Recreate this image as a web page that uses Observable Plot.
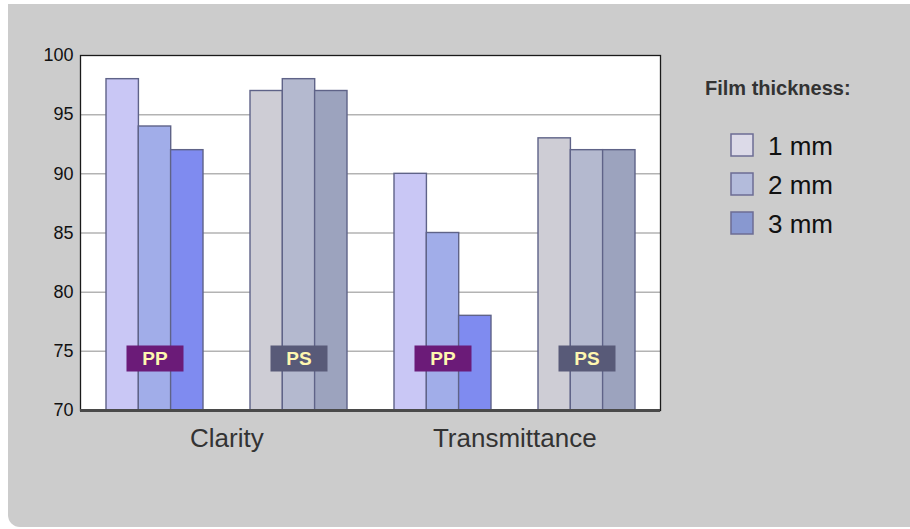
<!DOCTYPE html>
<html>
<head>
<meta charset="utf-8">
<script src="https://cdn.jsdelivr.net/npm/d3@7"></script>
<script src="https://cdn.jsdelivr.net/npm/@observablehq/plot@0.6"></script>
<style>
  html, body { margin: 0; padding: 0; background: #ffffff; }
  body { width: 910px; height: 529px; position: relative; overflow: hidden;
         font-family: "Liberation Sans", Arial, sans-serif; }
  #panel { position: absolute; left: 8px; top: 4px; width: 902px; height: 523px;
           background: #cccccc; border-radius: 0 0 0 12px; overflow: hidden; }
  #panel svg { position: absolute; left: 0; top: 0; }
</style>
</head>
<body>
<div id="panel"></div>
<script>
// ---- data ----
const categories = ["Clarity", "Transmittance"];
const materials = ["PP", "PS"];
const thicknesses = ["1 mm", "2 mm", "3 mm"];
const clarityPP = [98, 94, 92];
const clarityPS = [97, 98, 97];
const transmittancePP = [90, 85, 78];
const transmittancePS = [93, 92, 92];
const yTicks = [70, 75, 80, 85, 90, 95, 100];
const legendTitle = "Film thickness:";

// ---- styles ----
const barColors = {
  "PP|1 mm": "#c9c7f5", "PP|2 mm": "#a1ade9", "PP|3 mm": "#7f8bf0",
  "PS|1 mm": "#cecdd5", "PS|2 mm": "#b4b9cf", "PS|3 mm": "#9ca3be",
  "PP": "#6b1b78", "PS": "#585a78"
};
const legendColors = ["#dcdae8", "#b3bbdb", "#8898d0"];

// ---- table ----
const seriesByKey = {
  "Clarity|PP": clarityPP, "Clarity|PS": clarityPS,
  "Transmittance|PP": transmittancePP, "Transmittance|PS": transmittancePS
};
const groups = [];
const rows = [];
const labelRows = [];
for (const c of categories) {
  for (const m of materials) {
    const g = c + " " + m;
    groups.push(g);
    labelRows.push({group: g, category: c, material: m});
    seriesByKey[c + "|" + m].forEach((v, i) => {
      rows.push({group: g, category: c, material: m, thickness: thicknesses[i], index: i, value: v});
    });
  }
}

const W = 902, H = 523;
const margins = { marginLeft: 72, marginRight: 250, marginTop: 51, marginBottom: 117 };
const xOptions = { type: "band", domain: groups, paddingInner: 0.329, paddingOuter: 0.173, axis: null };
const xScale = Plot.scale({ x: { ...xOptions, range: [margins.marginLeft, W - margins.marginRight] } });
const bw = xScale.bandwidth;
const step = bw / (1 - xOptions.paddingInner);
const sub = bw / thicknesses.length;

const boxSymbol = { draw(ctx) { ctx.rect(-28.5, -13, 57, 26); } };

const barMarks = thicknesses.map((t, i) => Plot.barY(rows.filter(d => d.index === i), {
  x: "group",
  y1: () => yTicks[0], y2: "value",
  insetLeft: i * sub, insetRight: (thicknesses.length - 1 - i) * sub,
  fill: d => d.material + "|" + d.thickness,
  stroke: "#5f6388", strokeWidth: 1.4
}));

const chart = Plot.plot({
  width: W,
  height: H,
  ...margins,
  style: { background: "transparent", fontFamily: "'Liberation Sans', Arial, sans-serif", overflow: "visible" },
  x: xOptions,
  y: { domain: [yTicks[0], yTicks[yTicks.length - 1]], axis: null },
  color: { domain: Object.keys(barColors), range: Object.values(barColors) },
  marks: [
    Plot.frame({ fill: "white" }),
    Plot.ruleY(yTicks.slice(1, -1), { stroke: "#b3b3b3", strokeWidth: 1.5 }),
    ...barMarks,
    Plot.dot(labelRows, {
      x: "group", frameAnchor: "bottom", dy: -52,
      symbol: boxSymbol, fill: "material", stroke: "none"
    }),
    Plot.text(labelRows, {
      x: "group", frameAnchor: "bottom", lineAnchor: "middle", dy: -52, text: "material",
      fill: "#fff7b0", fontSize: 19, fontWeight: "bold"
    }),
    Plot.frame({ stroke: "#1a1a1a", strokeWidth: 1.3 }),
    Plot.ruleY([yTicks[0]], { stroke: "#4a4a4a", strokeWidth: 3 }),
    Plot.axisY({
      ticks: yTicks, tickSize: 0, tickPadding: 7, fontSize: 18, fill: "#111", label: null
    }),
    Plot.axisX({
      anchor: "bottom", tickSize: 0, tickPadding: 18, fontSize: 26, dx: -step / 2,
      fill: "#333", label: null,
      tickFormat: d => d.endsWith(" PS") ? d.slice(0, -3) : ""
    })
  ]
});

document.getElementById("panel").appendChild(chart);

// ---- legend ----
const svg = d3.select(chart);
const lg = svg.append("g")
  .attr("font-family", "'Liberation Sans', Arial, sans-serif")
  .attr("text-anchor", "start");
lg.append("text").attr("x", 697).attr("y", 91)
  .attr("font-size", 20).attr("font-weight", "bold").attr("fill", "#333")
  .text(legendTitle);
thicknesses.forEach((t, i) => {
  lg.append("rect").attr("x", 723).attr("y", 130 + i * 39).attr("width", 22).attr("height", 22)
    .attr("fill", legendColors[i]).attr("stroke", "#6c6c94").attr("stroke-width", 1.5);
  lg.append("text").attr("x", 760).attr("y", 150.5 + i * 39)
    .attr("font-size", 26).attr("fill", "#111").text(t);
});
</script>
</body>
</html>
